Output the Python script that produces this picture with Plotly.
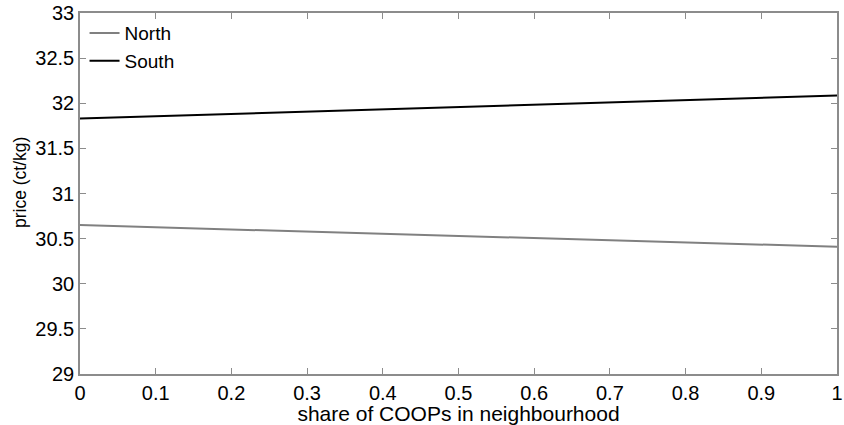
import plotly.graph_objects as go

share = [0.0, 1.0]
north = [30.65, 30.41]
south = [31.83, 32.085]
x_ticks = [0, 0.1, 0.2, 0.3, 0.4, 0.5, 0.6, 0.7, 0.8, 0.9, 1]
x_tick_labels = ["0", "0.1", "0.2", "0.3", "0.4", "0.5", "0.6", "0.7", "0.8", "0.9", "1"]
y_ticks = [29, 29.5, 30, 30.5, 31, 31.5, 32, 32.5, 33]
y_tick_labels = ["29", "29.5", "30", "30.5", "31", "31.5", "32", "32.5", "33"]

FONT = "Liberation Sans, Arial"

fig = go.Figure()
fig.add_trace(go.Scatter(x=share, y=north, mode="lines", name="North",
                         line=dict(color="#808080", width=2)))
fig.add_trace(go.Scatter(x=share, y=south, mode="lines", name="South",
                         line=dict(color="#000000", width=2)))

axis_common = dict(showgrid=False, zeroline=False, showline=True, linecolor="#8c8c8c",
                   linewidth=1.5, mirror="ticks", ticks="inside", ticklen=6,
                   tickcolor="#8c8c8c", tickwidth=1, ticklabeloverflow="allow",
                   tickfont=dict(family=FONT, size=20, color="#000"))

fig.update_xaxes(range=[0, 1], tickvals=x_ticks, ticktext=x_tick_labels,
                 title=dict(text="share of COOPs in neighbourhood", standoff=0,
                            font=dict(family=FONT, size=21, color="#000")),
                 **axis_common)
fig.update_yaxes(range=[29, 33], tickvals=y_ticks, ticktext=y_tick_labels,
                 **axis_common)

fig.add_annotation(text="price (ct/kg)", xref="paper", yref="paper",
                   x=0, y=0.529, xshift=-60, xanchor="center", yanchor="middle",
                   textangle=-90, showarrow=False,
                   font=dict(family=FONT, size=17.5, color="#000"))

fig.update_layout(
    width=844, height=425,
    margin=dict(l=80, r=7, t=13, b=51, autoexpand=False),
    paper_bgcolor="white", plot_bgcolor="white",
    showlegend=True,
    legend=dict(x=0.006, y=0.997, xanchor="left", yanchor="top",
                bgcolor="rgba(0,0,0,0)", borderwidth=0,
                font=dict(family=FONT, size=19, color="#000"),
                tracegroupgap=0, itemwidth=30),
)

fig.write_html("out.html")
